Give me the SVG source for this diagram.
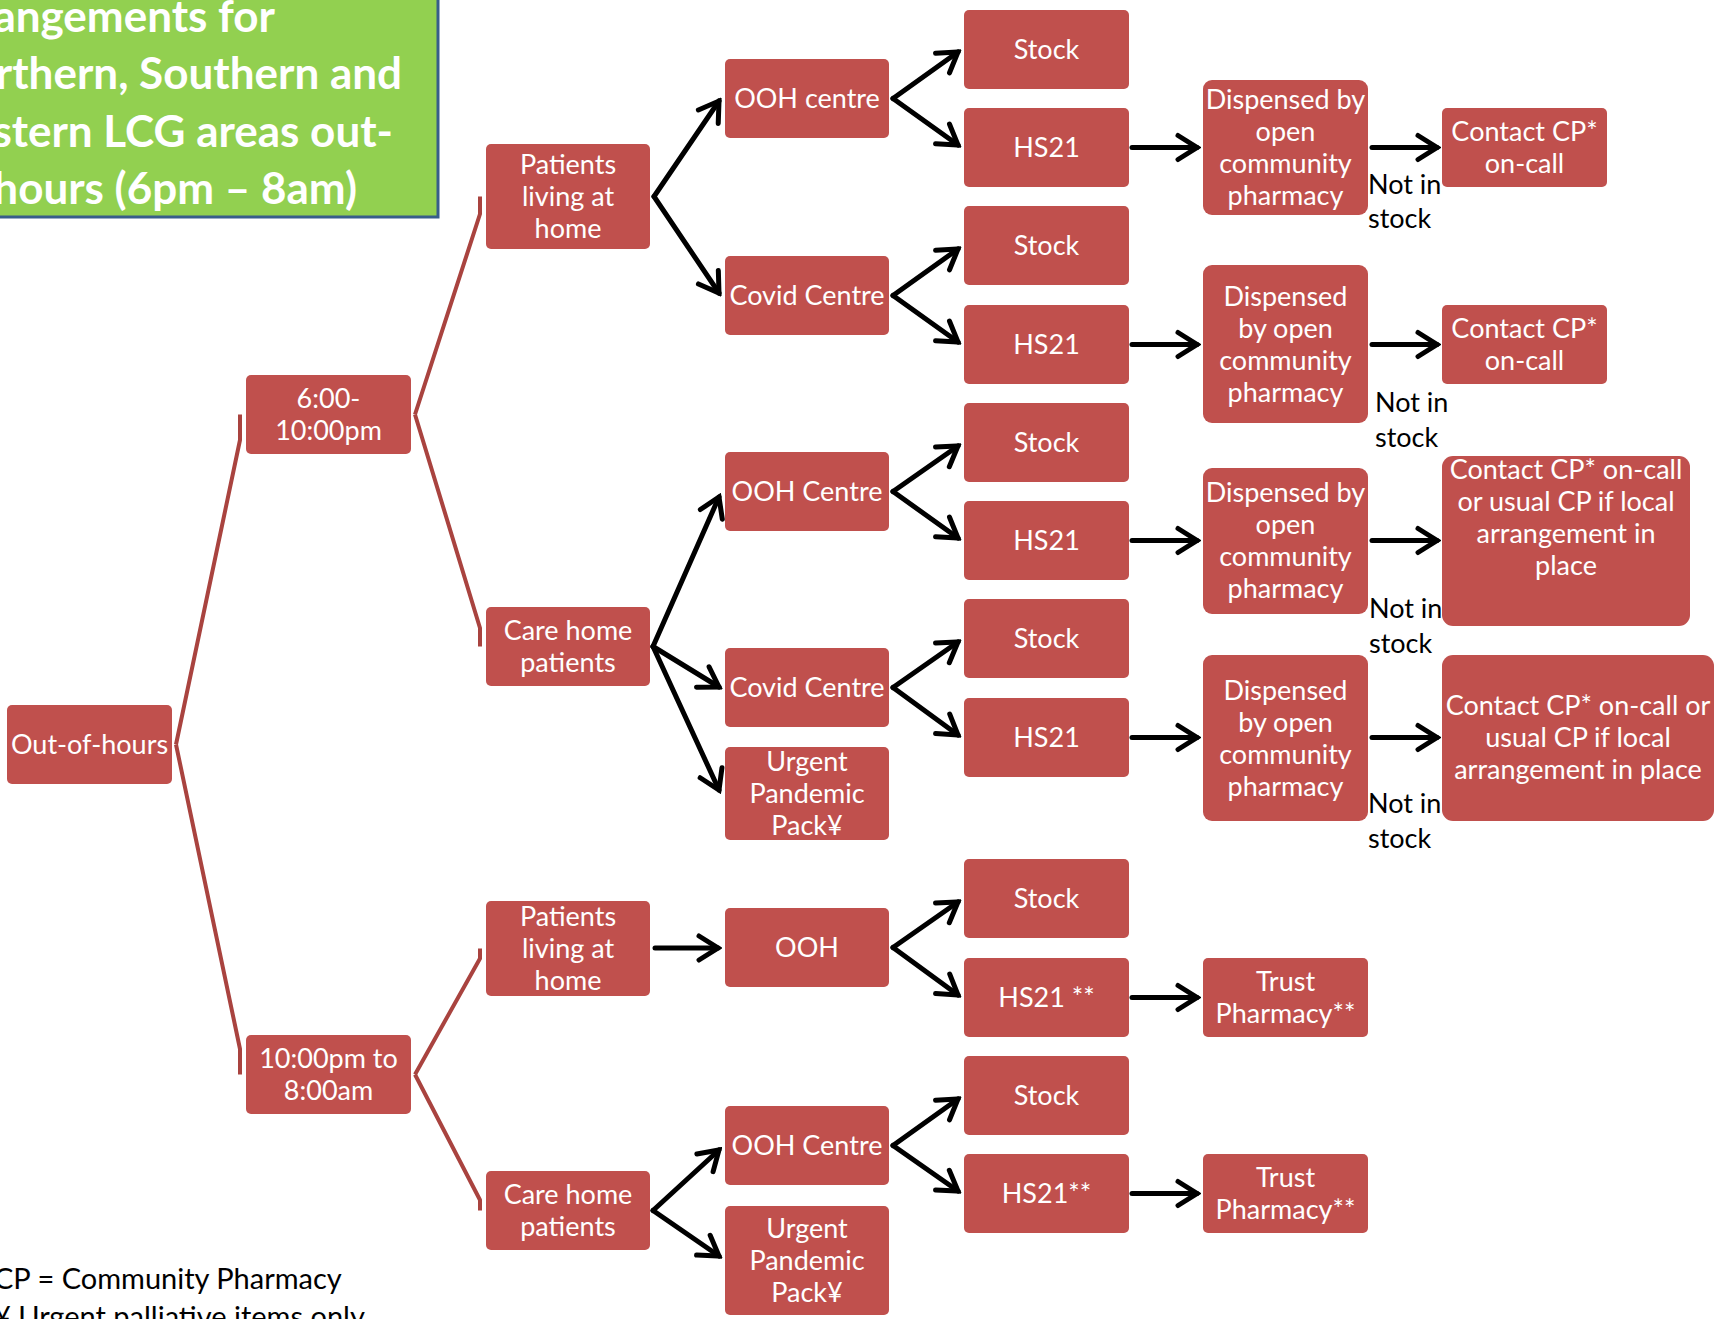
<svg xmlns="http://www.w3.org/2000/svg" width="1720" height="1319" viewBox="0 0 1720 1319">
<style>
.box{fill:#C0504D}
.t{font-family:Lato,"Liberation Sans",sans-serif;font-size:27px;fill:#fff;text-anchor:middle}
.lbl{font-family:Lato,"Liberation Sans",sans-serif;font-size:27px;fill:#000}
.foot{font-family:Lato,"Liberation Sans",sans-serif;font-size:29px;fill:#000}
.title{font-family:Lato,"Liberation Sans",sans-serif;font-weight:bold;font-size:44px;fill:#fff;text-anchor:end}
.red{stroke:#A9433F;stroke-width:4;fill:none;stroke-linejoin:round}
.arr{stroke:#000;stroke-width:5;fill:none;stroke-linecap:round;marker-end:url(#ah)}
</style>
<defs>
<marker id="ah" markerUnits="userSpaceOnUse" viewBox="-26 -16 30 32" refX="0" refY="0" markerWidth="30" markerHeight="32" orient="auto">
<path d="M-19,-12 L0,0 L-19,12" fill="none" stroke="#000" stroke-width="5" stroke-linecap="round" stroke-linejoin="miter"/>
</marker>
</defs>
<rect width="1720" height="1319" fill="#fff"/>

<g id="title">
<rect x="-20" y="-20" width="458" height="237" fill="#92D050" stroke="#385D8A" stroke-width="3"/>
<text class="title" x="275" y="32">angements for</text>
<text class="title" x="402" y="89">rthern, Southern and</text>
<text class="title" x="393" y="147">stern LCG areas out-</text>
<text class="title" x="357" y="204">hours (6pm – 8am)</text>
</g>

<g id="connectors">
<g id="tree-lines">
<path class="red" d="M176,744.5 L240,440 L240,414.5"/>
<path class="red" d="M176,744.5 L240,1049 L240,1074.5"/>
<path class="red" d="M415,414.5 L480,214 L480,196.5"/>
<path class="red" d="M415,414.5 L480,628 L480,646.5"/>
<path class="red" d="M415,1074.5 L480,958.5 L480,948.5"/>
<path class="red" d="M415,1074.5 L480,1200 L480,1210.5"/>
</g>
<g id="arrows">
<path class="arr" d="M654,196.5 L719,101"/>
<path class="arr" d="M654,196.5 L719,293"/>
<path class="arr" d="M653,646.5 L719,497"/>
<path class="arr" d="M653,646.5 L719,687"/>
<path class="arr" d="M653,646.5 L719,790"/>
<path class="arr" d="M655,948 L718,948"/>
<path class="arr" d="M653,1210.5 L719,1150"/>
<path class="arr" d="M653,1210.5 L719,1256"/>

<path class="arr" d="M893,98.5 L958,52"/>
<path class="arr" d="M893,98.5 L958,145"/>
<path class="arr" d="M893,295.5 L958,249"/>
<path class="arr" d="M893,295.5 L958,342"/>
<path class="arr" d="M893,491.5 L958,446"/>
<path class="arr" d="M893,491.5 L958,538"/>
<path class="arr" d="M893,687.5 L958,642"/>
<path class="arr" d="M893,687.5 L958,735"/>
<path class="arr" d="M893,947.5 L958,902"/>
<path class="arr" d="M893,947.5 L958,995"/>
<path class="arr" d="M893,1145.5 L958,1099"/>
<path class="arr" d="M893,1145.5 L958,1191"/>

<path class="arr" d="M1132,147.5 L1197,147.5"/>
<path class="arr" d="M1132,344.5 L1197,344.5"/>
<path class="arr" d="M1132,540.5 L1197,540.5"/>
<path class="arr" d="M1132,737.5 L1197,737.5"/>
<path class="arr" d="M1132,997.5 L1197,997.5"/>
<path class="arr" d="M1132,1193.5 L1197,1193.5"/>

<path class="arr" d="M1372,147.5 L1437,147.5"/>
<path class="arr" d="M1372,344.5 L1437,344.5"/>
<path class="arr" d="M1372,540.5 L1437,540.5"/>
<path class="arr" d="M1372,737.5 L1437,737.5"/>
</g>
<g id="edge-labels">
<text class="lbl" x="1368" y="194">Not in</text><text class="lbl" x="1368" y="228">stock</text>
<text class="lbl" x="1375" y="412">Not in</text><text class="lbl" x="1375" y="447">stock</text>
<text class="lbl" x="1369" y="618">Not in</text><text class="lbl" x="1369" y="653">stock</text>
<text class="lbl" x="1368" y="813">Not in</text><text class="lbl" x="1368" y="848">stock</text>
</g>
</g>

<g id="n-ooh"><rect class="box" x="7" y="705" width="165" height="79" rx="5"/><text class="t" x="89.5" y="754">Out-of-hours</text></g>
<g id="n-t1"><rect class="box" x="246" y="375" width="165" height="79" rx="5"/><text class="t" x="328.5" y="408">6:00-</text><text class="t" x="328.5" y="440">10:00pm</text></g>
<g id="n-t2"><rect class="box" x="246" y="1035" width="165" height="79" rx="5"/><text class="t" x="328.5" y="1068">10:00pm to</text><text class="t" x="328.5" y="1100">8:00am</text></g>

<g id="n-p1"><rect class="box" x="486" y="144" width="164" height="105" rx="5"/><text class="t" x="568" y="174">Patients</text><text class="t" x="568" y="206">living at</text><text class="t" x="568" y="238">home</text></g>
<g id="n-c1"><rect class="box" x="486" y="607" width="164" height="79" rx="5"/><text class="t" x="568" y="640">Care home</text><text class="t" x="568" y="672">patients</text></g>
<g id="n-p2"><rect class="box" x="486" y="901" width="164" height="95" rx="5"/><text class="t" x="568" y="926">Patients</text><text class="t" x="568" y="958">living at</text><text class="t" x="568" y="990">home</text></g>
<g id="n-c2"><rect class="box" x="486" y="1171" width="164" height="79" rx="5"/><text class="t" x="568" y="1204">Care home</text><text class="t" x="568" y="1236">patients</text></g>

<g id="n-a1"><rect class="box" x="725" y="59" width="164" height="79" rx="5"/><text class="t" x="807" y="108">OOH centre</text></g>
<g id="n-a2"><rect class="box" x="725" y="256" width="164" height="79" rx="5"/><text class="t" x="807" y="305">Covid Centre</text></g>
<g id="n-a3"><rect class="box" x="725" y="452" width="164" height="79" rx="5"/><text class="t" x="807" y="501">OOH Centre</text></g>
<g id="n-a4"><rect class="box" x="725" y="648" width="164" height="79" rx="5"/><text class="t" x="807" y="697">Covid Centre</text></g>
<g id="n-a5"><rect class="box" x="725" y="747" width="164" height="93" rx="5"/><text class="t" x="807" y="771">Urgent</text><text class="t" x="807" y="803">Pandemic</text><text class="t" x="807" y="835">Pack¥</text></g>
<g id="n-a6"><rect class="box" x="725" y="908" width="164" height="79" rx="5"/><text class="t" x="807" y="957">OOH</text></g>
<g id="n-a7"><rect class="box" x="725" y="1106" width="164" height="79" rx="5"/><text class="t" x="807" y="1155">OOH Centre</text></g>
<g id="n-a8"><rect class="box" x="725" y="1206" width="164" height="109" rx="5"/><text class="t" x="807" y="1238">Urgent</text><text class="t" x="807" y="1270">Pandemic</text><text class="t" x="807" y="1302">Pack¥</text></g>

<g id="n-s1"><rect class="box" x="964" y="10" width="165" height="79" rx="5"/><text class="t" x="1046.5" y="59">Stock</text></g>
<g id="n-h1"><rect class="box" x="964" y="108" width="165" height="79" rx="5"/><text class="t" x="1046.5" y="157">HS21</text></g>
<g id="n-s2"><rect class="box" x="964" y="206" width="165" height="79" rx="5"/><text class="t" x="1046.5" y="255">Stock</text></g>
<g id="n-h2"><rect class="box" x="964" y="305" width="165" height="79" rx="5"/><text class="t" x="1046.5" y="354">HS21</text></g>
<g id="n-s3"><rect class="box" x="964" y="403" width="165" height="79" rx="5"/><text class="t" x="1046.5" y="452">Stock</text></g>
<g id="n-h3"><rect class="box" x="964" y="501" width="165" height="79" rx="5"/><text class="t" x="1046.5" y="550">HS21</text></g>
<g id="n-s4"><rect class="box" x="964" y="599" width="165" height="79" rx="5"/><text class="t" x="1046.5" y="648">Stock</text></g>
<g id="n-h4"><rect class="box" x="964" y="698" width="165" height="79" rx="5"/><text class="t" x="1046.5" y="747">HS21</text></g>
<g id="n-s5"><rect class="box" x="964" y="859" width="165" height="79" rx="5"/><text class="t" x="1046.5" y="908">Stock</text></g>
<g id="n-h5"><rect class="box" x="964" y="958" width="165" height="79" rx="5"/><text class="t" x="1046.5" y="1007">HS21 **</text></g>
<g id="n-s6"><rect class="box" x="964" y="1056" width="165" height="79" rx="5"/><text class="t" x="1046.5" y="1105">Stock</text></g>
<g id="n-h6"><rect class="box" x="964" y="1154" width="165" height="79" rx="5"/><text class="t" x="1046.5" y="1203">HS21**</text></g>

<g id="n-d1"><rect class="box" x="1203" y="80" width="165" height="135" rx="9"/><text class="t" x="1285.5" y="109">Dispensed by</text><text class="t" x="1285.5" y="141">open</text><text class="t" x="1285.5" y="173">community</text><text class="t" x="1285.5" y="205">pharmacy</text></g>
<g id="n-d2"><rect class="box" x="1203" y="265" width="165" height="158" rx="9"/><text class="t" x="1285.5" y="306">Dispensed</text><text class="t" x="1285.5" y="338">by open</text><text class="t" x="1285.5" y="370">community</text><text class="t" x="1285.5" y="402">pharmacy</text></g>
<g id="n-d3"><rect class="box" x="1203" y="468" width="165" height="146" rx="9"/><text class="t" x="1285.5" y="502">Dispensed by</text><text class="t" x="1285.5" y="534">open</text><text class="t" x="1285.5" y="566">community</text><text class="t" x="1285.5" y="598">pharmacy</text></g>
<g id="n-d4"><rect class="box" x="1203" y="655" width="165" height="166" rx="9"/><text class="t" x="1285.5" y="700">Dispensed</text><text class="t" x="1285.5" y="732">by open</text><text class="t" x="1285.5" y="764">community</text><text class="t" x="1285.5" y="796">pharmacy</text></g>
<g id="n-tp1"><rect class="box" x="1203" y="958" width="165" height="79" rx="5"/><text class="t" x="1285.5" y="991">Trust</text><text class="t" x="1285.5" y="1023">Pharmacy**</text></g>
<g id="n-tp2"><rect class="box" x="1203" y="1154" width="165" height="79" rx="5"/><text class="t" x="1285.5" y="1187">Trust</text><text class="t" x="1285.5" y="1219">Pharmacy**</text></g>

<g id="n-cp1"><rect class="box" x="1442" y="108" width="165" height="79" rx="5"/><text class="t" x="1524.5" y="141">Contact CP*</text><text class="t" x="1524.5" y="173">on-call</text></g>
<g id="n-cp2"><rect class="box" x="1442" y="305" width="165" height="79" rx="5"/><text class="t" x="1524.5" y="338">Contact CP*</text><text class="t" x="1524.5" y="370">on-call</text></g>
<g id="n-cp3"><rect class="box" x="1442" y="456" width="248" height="170" rx="11"/><text class="t" x="1566" y="479">Contact CP* on-call</text><text class="t" x="1566" y="511">or usual CP if local</text><text class="t" x="1566" y="543">arrangement in</text><text class="t" x="1566" y="575">place</text></g>
<g id="n-cp4"><rect class="box" x="1442" y="655" width="272" height="166" rx="11"/><text class="t" x="1578" y="715">Contact CP* on-call or</text><text class="t" x="1578" y="747">usual CP if local</text><text class="t" x="1578" y="779">arrangement in place</text></g>

<g id="footnotes">
<text class="foot" x="-6" y="1289">CP = Community Pharmacy</text>
<text class="foot" x="-6" y="1327">¥ Urgent palliative items only</text>
</g>
</svg>
